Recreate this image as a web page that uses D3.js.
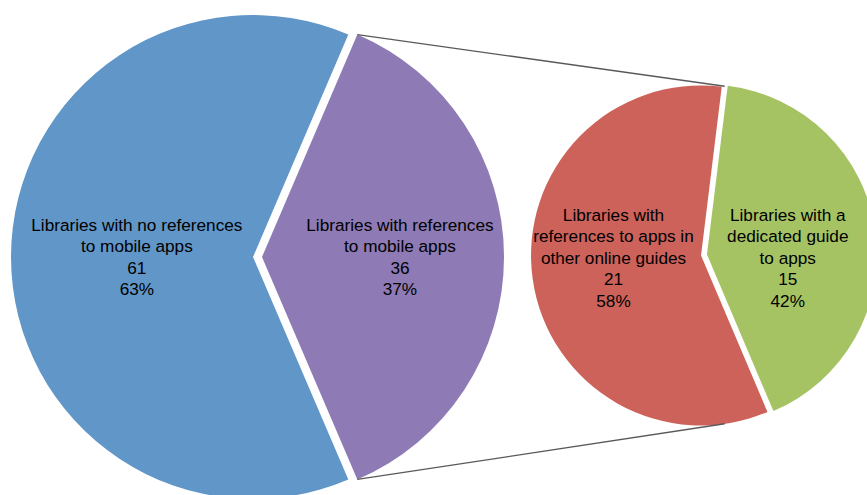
<!DOCTYPE html>
<html>
<head>
<meta charset="utf-8">
<script src="https://cdn.jsdelivr.net/npm/d3@7/dist/d3.min.js"></script>
<style>
  html, body { margin: 0; padding: 0; background: #ffffff; }
  svg { display: block; }
  text { font-family: "Liberation Sans", Arial, sans-serif; fill: #000; }
</style>
</head>
<body>
<svg id="chart" width="867" height="495"></svg>
<script>
// ---- data ----
const mainCategories = ["Libraries with references to mobile apps", "Libraries with no references to mobile apps"];
const mainValues = [36, 61];
const mainColors = ["#8E7AB4", "#6096C8"];
const mainLabelLines = [
  ["Libraries with references", "to mobile apps"],
  ["Libraries with no references", "to mobile apps"]
];

const subCategories = ["Libraries with a dedicated guide to apps", "Libraries with references to apps in other online guides"];
const subValues = [15, 21];
const subColors = ["#A6C364", "#CD625A"];
const subLabelLines = [
  ["Libraries with a", "dedicated guide", "to apps"],
  ["Libraries with", "references to apps in", "other online guides"]
];

// ---- layout ----
const svg = d3.select("#chart");
const deg = Math.PI / 180;

const main = { cx: 257.5, cy: 257, r: 242, gap: 4.5, labelK: [0.57, 0.48], labelDy: 0 };
const sub = { cx: 704, cy: 255, r: 170, gap: 3, labelK: [0.48, 0.52], labelDy: 2.5 };

const total = arr => d3.sum(arr);
const pct = (v, arr) => Math.round(v / total(arr) * 100) + "%";

// main pie: the "other" slice (first) centred on the right side
const mainSpan = mainValues[0] / total(mainValues) * 2 * Math.PI;
const mainStart = Math.PI / 2 - mainSpan / 2;
const mainPie = d3.pie().sort(null).value(d => d)
  .startAngle(mainStart).endAngle(mainStart + 2 * Math.PI);

const subStart = 7 * deg;
const subPie = d3.pie().sort(null).value(d => d)
  .startAngle(subStart).endAngle(subStart + 2 * Math.PI);

function drawPie(cfg, pieGen, values, colors, lineSets, fontSize) {
  const arcs = pieGen(values);
  const arcGen = d3.arc().innerRadius(0).outerRadius(cfg.r);
  const g = svg.append("g").attr("transform", `translate(${cfg.cx},${cfg.cy})`);
  arcs.forEach((a, i) => {
    const mid = (a.startAngle + a.endAngle) / 2;
    const ox = cfg.gap * Math.sin(mid), oy = -cfg.gap * Math.cos(mid);
    g.append("path")
      .attr("d", arcGen(a))
      .attr("transform", `translate(${ox},${oy})`)
      .attr("fill", colors[i]);
  });
  arcs.forEach((a, i) => {
    const mid = (a.startAngle + a.endAngle) / 2;
    const lr = cfg.labelK[i] * cfg.r;
    const x = lr * Math.sin(mid) + cfg.gap * Math.sin(mid);
    const lines = lineSets[i].concat([String(values[i]), pct(values[i], values)]);
    const lh = 21.5;
    const y0 = -(lines.length - 1) * lh / 2 + 0.36 * fontSize + cfg.labelDy;
    const t = g.append("text")
      .attr("text-anchor", "middle")
      .attr("font-size", fontSize + "px");
    lines.forEach((ln, j) => {
      t.append("tspan").attr("x", x).attr("y", y0 + j * lh).text(ln);
    });
  });
  return arcs;
}

const mainArcs = drawPie(main, mainPie, mainValues, mainColors, mainLabelLines, 17.2);
const subArcs = drawPie(sub, subPie, subValues, subColors, subLabelLines, 17.2);

// connector lines: from the tips of the "other" slice to the second pie
const other = mainArcs[0];
const mid0 = (other.startAngle + other.endAngle) / 2;
const mox = main.cx + main.gap * Math.sin(mid0), moy = main.cy - main.gap * Math.cos(mid0);
const p1 = [mox + main.r * Math.sin(other.startAngle), moy - main.r * Math.cos(other.startAngle)];
const p2 = [mox + main.r * Math.sin(other.endAngle), moy - main.r * Math.cos(other.endAngle)];
const q1 = [sub.cx + sub.r * Math.sin(subStart), sub.cy - sub.r * Math.cos(subStart)];
const q2 = [sub.cx + sub.r * Math.sin(Math.PI - subStart), sub.cy - sub.r * Math.cos(Math.PI - subStart)];

svg.append("line").attr("x1", p1[0]).attr("y1", p1[1]).attr("x2", q1[0]).attr("y2", q1[1])
  .attr("stroke", "#595959").attr("stroke-width", 1.3);
svg.append("line").attr("x1", p2[0]).attr("y1", p2[1]).attr("x2", q2[0]).attr("y2", q2[1])
  .attr("stroke", "#595959").attr("stroke-width", 1.3);
</script>
</body>
</html>
